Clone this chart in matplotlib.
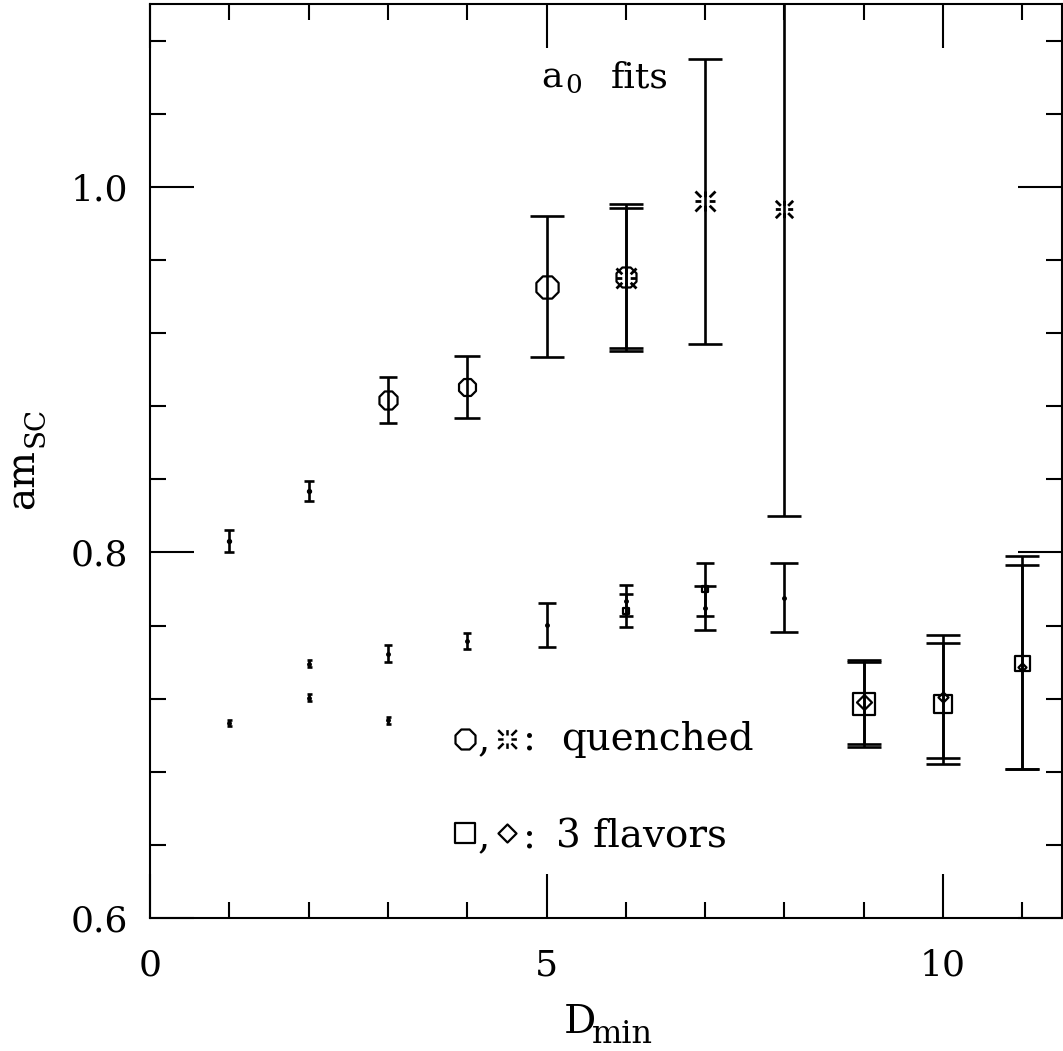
import numpy as np
import matplotlib
matplotlib.use("Agg")
import matplotlib.pyplot as plt
from matplotlib.path import Path
from matplotlib.ticker import MultipleLocator

plt.rcParams['font.family'] = ['DejaVu Serif']
plt.rcParams['mathtext.fontset'] = 'dejavuserif'

# ---------------- data ----------------
# quenched, octagon symbols
x_oct = [1, 2, 3, 4, 5, 6]
y_oct = [0.806, 0.8335, 0.8833, 0.8907, 0.9454, 0.9504]
e_oct = [0.006, 0.0055, 0.0125, 0.017, 0.0386, 0.040]

# quenched, burst symbols
x_ast = [6, 7, 8]
y_ast = [0.950, 0.992, 0.988]
e_ast = [0.0382, 0.078, 0.168]

# small-dot fits (upper of lower band)
x_dota = [2, 3, 4, 5, 6, 7, 8]
y_dota = [0.7391, 0.7446, 0.7515, 0.7604, 0.7735, 0.7695, 0.7752]
e_dota = [0.0018, 0.0045, 0.0045, 0.012, 0.0084, 0.0121, 0.019]

# small-dot fits (lowest)
x_dotb = [1, 2, 3]
y_dotb = [0.7067, 0.7205, 0.7082]
e_dotb = [0.0018, 0.0018, 0.0018]

# 3 flavors, squares
x_sq = [6, 7, 9, 10, 11]
y_sq = [0.768, 0.7798, 0.7169, 0.7173, 0.7397]
e_sq = [0.009, 0.0145, 0.0231, 0.0333, 0.0584]

# 3 flavors, diamonds
x_dia = [9, 10, 11]
y_dia = [0.7182, 0.7210, 0.7372]
e_dia = [0.0231, 0.0337, 0.0558]

# ---------------- styles ----------------
ms_oct = [2.2, 2.2, 13, 12.2, 16, 14.4]
cs_oct = [3.6, 3.6, 6.8, 9.4, 11.9, 11.9]
ms_ast = [14.4, 14.4, 12.5]
cs_ast = [11.9, 11.9, 11.9]
cs_dota = [1.8, 2.9, 2.9, 6.5, 5.0, 7.9, 10.4]
cs_dotb = [1.8, 1.8, 1.8]
ms_sq = [5, 5, 16.5, 13, 10.8]
cs_sq = [5.0, 6.8, 11.9, 11.9, 11.9]
ms_dia = [10.8, 7.2, 5.8]
cs_dia = [11.9, 11.9, 11.9]

a = np.tan(np.pi / 8)
oct_path = Path([(a, 1), (1, a), (1, -a), (a, -1), (-a, -1), (-1, -a), (-1, a), (-a, 1), (a, 1)],
                [Path.MOVETO] + [Path.LINETO] * 7 + [Path.CLOSEPOLY])
verts, codes = [], []
for dx, dy in [(1, 0), (1, 1), (0, 1), (-1, 1), (-1, 0), (-1, -1), (0, -1), (1, -1)]:
    verts += [(0.42 * dx, 0.42 * dy), (dx, dy)]
    codes += [Path.MOVETO, Path.LINETO]
ast_path = Path(verts, codes)
sq_path = Path([(-1, -1), (1, -1), (1, 1), (-1, 1), (-1, -1)],
               [Path.MOVETO, Path.LINETO, Path.LINETO, Path.LINETO, Path.CLOSEPOLY])
dia_path = Path([(0, -1), (1, 0), (0, 1), (-1, 0), (0, -1)],
                [Path.MOVETO, Path.LINETO, Path.LINETO, Path.LINETO, Path.CLOSEPOLY])

LW = 1.9
MEW = 1.6
FS = 28

fig = plt.figure(figsize=(10.63, 10.51), dpi=100)
ax = fig.add_axes([150 / 1063, (1051 - 918) / 1051, 912 / 1063, 914 / 1051])


def draw(xs, ys, es, caps, marker=None, sizes=None, mew=MEW):
    for i in range(len(xs)):
        ax.errorbar(xs[i], ys[i], yerr=es[i], fmt='none', ecolor='k',
                    elinewidth=LW, capsize=caps[i], capthick=LW, zorder=2)
        if marker is None:
            ax.plot(xs[i], ys[i], 'o', ms=2.5, color='k', zorder=3)
        else:
            ax.plot(xs[i], ys[i], linestyle='none', marker=marker, ms=sizes[i],
                    mec='k', mfc='none', mew=mew, zorder=3)


draw(x_oct, y_oct, e_oct, cs_oct, oct_path, ms_oct)
draw(x_ast, y_ast, e_ast, cs_ast, ast_path, ms_ast, mew=2.0)
draw(x_dota, y_dota, e_dota, cs_dota)
draw(x_dotb, y_dotb, e_dotb, cs_dotb)
draw(x_sq, y_sq, e_sq, cs_sq, sq_path, ms_sq)
draw(x_dia, y_dia, e_dia, cs_dia, dia_path, ms_dia)

ax.set_xlim(0, 11.5)
ax.set_ylim(0.6, 1.1)
ax.xaxis.set_major_locator(MultipleLocator(5))
ax.xaxis.set_minor_locator(MultipleLocator(1))
ax.yaxis.set_major_locator(MultipleLocator(0.2))
ax.yaxis.set_minor_locator(MultipleLocator(0.04))
ax.set_yticks([0.6, 0.8, 1.0])
ax.set_yticklabels(['0.6', '0.8', '1.0'])
ax.tick_params(which='both', direction='in', top=True, right=True, width=1.5)
ax.tick_params(which='major', length=32, labelsize=26)
ax.tick_params(which='minor', length=11.5)
ax.tick_params(axis='y', which='major', pad=16)
ax.tick_params(axis='x', which='major', pad=22)
for s in ax.spines.values():
    s.set_linewidth(1.5)

T = ax.transAxes


def fx(px):
    return (px - 150) / 912


def fy(py):
    return (918 - py) / 914


def txt(px, py, s, size, **kw):
    ax.text(fx(px), fy(py), s, transform=T, fontsize=size, ha='left', va='baseline',
            clip_on=False, **kw)


# axis labels
txt(564, 1033, 'D', 29)
txt(592, 1043, 'min', 23)
ax.text(fx(34), fy(509), 'am', transform=T, fontsize=28, rotation=90,
        rotation_mode='anchor', ha='left', va='baseline', clip_on=False)
ax.text(fx(44), fy(447), 'SC', transform=T, fontsize=20, rotation=90,
        rotation_mode='anchor', ha='left', va='baseline', clip_on=False)

# title-like annotation
txt(541, 88, 'a', 26)
txt(565, 93, '0', 19)
txt(611, 88, 'fits', 26)

# legend-like annotations
ax.plot(fx(465), fy(739), marker=oct_path, ms=14.4, mec='k', mfc='none', mew=MEW,
        transform=T, clip_on=False)
ax.plot(fx(507), fy(739), marker=ast_path, ms=13.5, mec='k', mew=1.8, transform=T,
        clip_on=False)
txt(478, 750, ',', FS)
txt(523, 750, ':', FS)
txt(561, 750, 'quenched', FS)

ax.plot(fx(465), fy(833), marker=sq_path, ms=14.4, mec='k', mfc='none', mew=MEW,
        transform=T, clip_on=False)
ax.plot(fx(507), fy(833), marker=dia_path, ms=13, mec='k', mfc='none', mew=MEW,
        transform=T, clip_on=False)
txt(478, 847, ',', FS)
txt(523, 847, ':', FS)
txt(556, 847, '3 flavors', FS)

fig.savefig('out.png', dpi=100)
